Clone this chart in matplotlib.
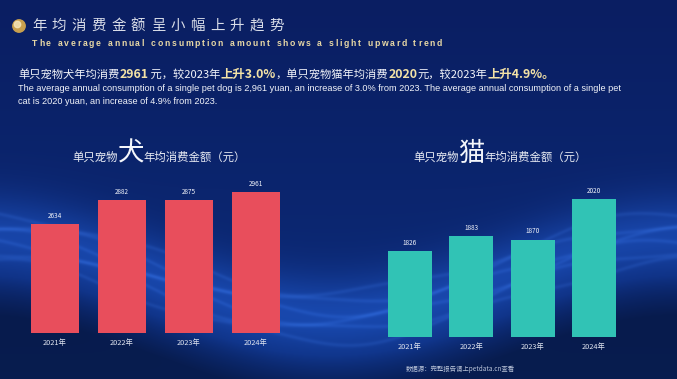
import matplotlib
matplotlib.use('Agg')
from matplotlib import pyplot as plt
from matplotlib.patches import Circle
import numpy as np

plt.rcParams['font.family'] = ['Noto Sans CJK SC', 'DejaVu Sans']

# data
years = ['2021年', '2022年', '2023年', '2024年']
dog_spend = [2634, 2882, 2875, 2961]
cat_spend = [1826, 1883, 1870, 2020]

title_cn = '年均消费金额呈小幅上升趋势'
title_en = 'The average annual consumption amount shows a slight upward trend'
note_en_1 = ('The average annual consumption of a single pet dog is 2,961 yuan, an increase of 3.0% '
             'from 2023. The average annual consumption of a single pet')
note_en_2 = 'cat is 2020 yuan, an increase of 4.9% from 2023.'
source = '数据源：完整报告请上petdata.cn查看'

W, H = 677, 379
WHITE = '#f2f4fa'
GOLD = '#f3e2a6'
RED = '#e84e5c'
TEAL = '#31c3b5'

fig = plt.figure(figsize=(W / 100, H / 100), dpi=100)

# background, pixel coordinates
bg = fig.add_axes([0, 0, 1, 1])
bg.set_xlim(0, W)
bg.set_ylim(H, 0)
bg.axis('off')

Y, X = np.mgrid[0:H, 0:W].astype(float)
t = Y / H
top = np.array([10, 30, 98]) / 255
bot = np.array([12, 44, 122]) / 255
img = top * (1 - t[..., None]) + bot * t[..., None]
yc = 275 + 40 * np.cos(2 * np.pi * (X - 330) / 700)
glow = np.exp(-((Y - yc) / 40) ** 2)
img = img + glow[..., None] * (np.array([25, 60, 110]) / 255) * 0.5
for k, off in enumerate([-22, -12, -3, 6, 15, 26]):
    line = np.exp(-((Y - yc - off - 5 * np.sin(X / 35 + 2 * k)) / 2.2) ** 2)
    img = img + line[..., None] * (np.array([110, 160, 220]) / 255) * 0.07
under = np.clip((Y - yc - 40) / 40, 0, 1)
img = img * (1 - 0.35 * under[..., None])
bg.imshow(np.clip(img, 0, 1), extent=[0, W, H, 0], aspect='auto', zorder=0)

renderer = fig.canvas.get_renderer()


def tracked(x, y, s, step_extra, space_w, **kw):
    for ch in s:
        if ch == ' ':
            x += space_w + step_extra
            continue
        t = bg.text(x, y, ch, ha='left', va='center', **kw)
        x += t.get_window_extent(renderer=renderer).width + step_extra
    return x


def rich(x, y, parts):
    for s, kw in parts:
        t = bg.text(x, y, s, ha='left', va='baseline', **kw)
        x += t.get_window_extent(renderer=renderer).width
    return x


# header
bg.add_patch(Circle((19, 26), 6.2, color='#c9a04e', zorder=3))
bg.add_patch(Circle((17.5, 24.5), 3.2, color='#f6e7bd', alpha=0.8, zorder=4))
tracked(32, 26, title_cn, 5.4, 5, fontsize=10.4, color='#d9dde8')
tracked(32, 44, title_en, 1.75, 3.2, fontsize=6.2, color='#e9d9a6',
        fontweight='bold', family=['Liberation Sans', 'DejaVu Sans'])

# summary
n = dict(fontsize=8.1, color=WHITE)
g = dict(fontsize=8.9, color=GOLD, fontweight='bold')
rich(18, 78, [('单只宠物犬年均消费', n), ('2961', g), (' 元，较2023年', n), ('上升3.0%', g),
              ('，单只宠物猫年均消费', n), ('2020', g), ('元，较2023年', n), ('上升4.9%。', g)])
en = dict(fontsize=6.6, color=WHITE, family=['Liberation Sans', 'DejaVu Sans'])
bg.text(18, 91, note_en_1, va='baseline', **en)
bg.text(18, 104, note_en_2, va='baseline', **en)

# chart titles
s = dict(fontsize=8.2, color='#e8ebf3')
b = dict(fontsize=19, color='#f4f6fb')
rich(72, 161, [('单只宠物', s), ('犬', b), ('年均消费金额（元）', s)])
rich(413, 161, [('单只宠物', s), ('猫', b), ('年均消费金额（元）', s)])

bg.text(515, 369, source, ha='right', va='center', fontsize=4.6, color='#b9c3d8')


def bar_axes(left, right, base_px, y0, y1, px_per_unit):
    hpx = (y1 - y0) * px_per_unit
    ax = fig.add_axes([left / W, (H - base_px) / H, (right - left) / W, hpx / H])
    ax.set_facecolor('none')
    ax.set_xlim(-0.5, 3.5)
    ax.set_ylim(y0, y1)
    for sp in ax.spines.values():
        sp.set_visible(False)
    ax.set_yticks([])
    return ax


ax1 = bar_axes(21.5, 289.5, 333, 1521, 3200, 0.0979)
bars = ax1.bar(range(len(years)), dog_spend, width=0.72, color=RED)
ax1.bar_label(bars, labels=[str(v) for v in dog_spend], padding=3, fontsize=4.6, color=WHITE)
ax1.set_xticks(range(len(years)), years)
ax1.tick_params(axis='x', length=0, pad=4.5, labelsize=5.3, labelcolor='#dfe4ef')

ax2 = bar_axes(379.3, 624.7, 337, 1509, 2150, 0.27)
bars = ax2.bar(range(len(years)), cat_spend, width=0.72, color=TEAL)
ax2.bar_label(bars, labels=[str(v) for v in cat_spend], padding=3, fontsize=4.6, color=WHITE)
ax2.set_xticks(range(len(years)), years)
ax2.tick_params(axis='x', length=0, pad=4.5, labelsize=5.3, labelcolor='#dfe4ef')

fig.savefig('out.png', dpi=100)
